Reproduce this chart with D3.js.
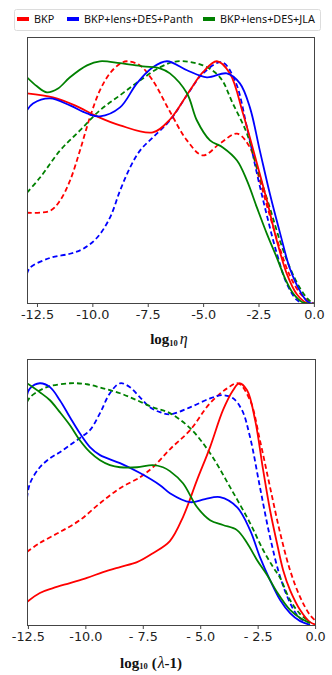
<!DOCTYPE html>
<html><head><meta charset="utf-8">
<script src="https://cdn.jsdelivr.net/npm/d3@7"></script>
<style>body{margin:0;background:#fff}svg{display:block}</style>
</head><body>
<script>
// ---------- data ----------
const seriesNames = ["BKP", "BKP+lens+DES+Panth", "BKP+lens+DES+JLA"];
const seriesColors = ["#ff0000", "#0000ff", "#008000"];
const tickValues = [-12.5, -10.0, -7.5, -5.0, -2.5, 0.0];
const topTickLabels = ["-12.5", "-10.0", "-7.5", "-5.0", "-2.5", "0.0"];
const bottomTickLabels = ["-12.5", "-10.0", "- 7.5", "- 5.0", "- 2.5", "0.0"];

// top panel: log10 eta  (solid / dashed per series)
const etaBKP = [[-12.95,0.868],[-11.78,0.851],[-10.79,0.818],[-9.79,0.773],[-8.75,0.736],[-7.27,0.707],[-6.50,0.76],[-5.60,0.88],[-5.01,0.955],[-4.38,1.0],[-3.79,0.95],[-3.20,0.785],[-2.57,0.579],[-2.12,0.426],[-1.67,0.26],[-1.22,0.124],[-0.77,0.04],[-0.32,0.004],[0.05,0.0]];
const etaBKPd = [[-12.95,0.376],[-11.91,0.384],[-11.46,0.426],[-11.01,0.508],[-10.56,0.632],[-10.11,0.769],[-9.66,0.88],[-9.21,0.95],[-8.75,0.99],[-8.44,1.0],[-7.85,0.983],[-7.27,0.92],[-6.50,0.793],[-5.73,0.674],[-5.01,0.612],[-4.24,0.661],[-3.47,0.702],[-2.89,0.645],[-2.44,0.508],[-1.99,0.364],[-1.53,0.227],[-1.08,0.116],[-0.63,0.045],[-0.18,0.008],[0.05,0.002]];
const etaPan = [[-12.95,0.798],[-12.68,0.826],[-11.91,0.847],[-11.01,0.818],[-10.24,0.785],[-9.66,0.773],[-8.75,0.81],[-7.99,0.909],[-7.27,0.975],[-6.63,1.0],[-5.73,0.963],[-4.83,0.934],[-3.93,0.95],[-3.34,0.909],[-2.89,0.81],[-2.44,0.632],[-1.99,0.455],[-1.53,0.293],[-1.08,0.145],[-0.63,0.054],[-0.27,0.008],[0.05,0.0]];
const etaPand = [[-12.95,0.124],[-12.82,0.149],[-11.91,0.19],[-11.01,0.207],[-10.42,0.227],[-9.79,0.273],[-9.21,0.355],[-8.75,0.467],[-8.30,0.562],[-7.85,0.632],[-7.27,0.686],[-6.50,0.756],[-5.73,0.86],[-5.01,0.95],[-4.15,0.996],[-3.56,0.92],[-3.02,0.727],[-2.57,0.537],[-2.12,0.364],[-1.67,0.207],[-1.22,0.083],[-0.77,0.017],[-0.41,0.0]];
const etaJLA = [[-12.95,0.934],[-12.5,0.897],[-12.05,0.872],[-11.55,0.888],[-11.01,0.934],[-10.24,0.983],[-9.66,1.0],[-8.75,0.992],[-7.72,0.979],[-6.95,0.971],[-6.50,0.95],[-5.73,0.868],[-5.28,0.756],[-4.69,0.674],[-4.11,0.645],[-3.47,0.591],[-3.02,0.508],[-2.57,0.397],[-2.12,0.289],[-1.67,0.19],[-1.31,0.107],[-0.95,0.045],[-0.54,0.008],[-0.2,0.0]];
const etaJLAd = [[-12.95,0.459],[-12.36,0.521],[-11.46,0.632],[-10.56,0.715],[-9.66,0.798],[-8.75,0.86],[-7.85,0.921],[-6.95,0.975],[-6.18,1.0],[-5.01,0.983],[-4.24,0.934],[-3.66,0.826],[-3.02,0.702],[-2.57,0.562],[-1.99,0.397],[-1.53,0.26],[-1.08,0.149],[-0.63,0.066],[-0.18,0.012],[0.05,0.004]];

// bottom panel: log10 (lambda-1)
const lamBKP = [[-12.54,0.099],[-11.98,0.136],[-11.41,0.156],[-10.67,0.177],[-9.93,0.198],[-9.23,0.222],[-8.49,0.243],[-7.75,0.263],[-7.06,0.3],[-6.32,0.35],[-5.75,0.449],[-5.14,0.601],[-4.57,0.737],[-4.01,0.889],[-3.57,0.971],[-3.31,1.0],[-2.96,0.971],[-2.61,0.848],[-2.26,0.642],[-1.96,0.477],[-1.66,0.342],[-1.39,0.23],[-1.09,0.148],[-0.65,0.066],[-0.22,0.016],[0.04,0.005]];
const lamBKPd = [[-12.54,0.305],[-11.98,0.342],[-11.11,0.387],[-10.24,0.436],[-9.36,0.506],[-8.49,0.568],[-7.62,0.613],[-7.06,0.654],[-6.32,0.728],[-5.44,0.807],[-4.57,0.918],[-3.83,0.979],[-3.35,1.0],[-2.83,0.93],[-2.40,0.765],[-1.96,0.572],[-1.52,0.383],[-1.09,0.23],[-0.65,0.119],[-0.22,0.045],[0.04,0.02]];
const lamPan = [[-12.54,0.95],[-12.41,0.979],[-11.98,1.0],[-11.54,0.984],[-11.11,0.93],[-10.67,0.86],[-10.24,0.794],[-9.80,0.737],[-9.36,0.704],[-8.49,0.671],[-7.62,0.63],[-6.75,0.58],[-6.32,0.547],[-5.44,0.51],[-4.79,0.523],[-4.14,0.531],[-3.40,0.49],[-2.83,0.395],[-2.40,0.284],[-1.96,0.189],[-1.52,0.107],[-1.09,0.053],[-0.65,0.02],[-0.22,0.005]];
const lamPand = [[-12.54,0.527],[-12.41,0.588],[-11.98,0.654],[-11.54,0.691],[-11.11,0.716],[-10.67,0.745],[-10.24,0.774],[-9.80,0.807],[-9.36,0.877],[-8.93,0.959],[-8.49,1.0],[-8.06,0.984],[-7.62,0.942],[-7.19,0.901],[-6.75,0.881],[-6.32,0.872],[-5.44,0.901],[-4.57,0.938],[-4.01,0.951],[-3.57,0.938],[-3.18,0.889],[-2.83,0.778],[-2.40,0.572],[-1.96,0.366],[-1.52,0.202],[-1.09,0.095],[-0.78,0.045],[-0.44,0.016]];
const lamJLA = [[-12.54,1.0],[-11.98,0.963],[-11.54,0.93],[-11.11,0.881],[-10.67,0.827],[-10.24,0.765],[-9.80,0.716],[-9.36,0.683],[-8.93,0.663],[-8.49,0.654],[-7.75,0.654],[-7.06,0.663],[-6.62,0.654],[-6.32,0.638],[-5.75,0.588],[-5.14,0.49],[-4.57,0.436],[-4.01,0.416],[-3.40,0.395],[-2.96,0.342],[-2.53,0.272],[-2.09,0.21],[-1.66,0.14],[-1.09,0.066],[-0.65,0.033],[-0.22,0.012]];
const lamJLAd = [[-12.54,0.922],[-12.41,0.942],[-11.98,0.971],[-11.54,0.988],[-10.67,1.0],[-9.93,0.996],[-9.23,0.979],[-8.49,0.959],[-7.75,0.93],[-7.06,0.901],[-6.32,0.877],[-5.44,0.815],[-4.57,0.712],[-3.70,0.572],[-2.83,0.424],[-2.26,0.313],[-1.83,0.243],[-1.52,0.198],[-1.09,0.107],[-0.65,0.049],[-0.22,0.016]];

// ---------- drawing ----------
const W = 332, H = 675;
const svg = d3.select("body").append("svg").attr("width", W).attr("height", H);

// legend
const leg = svg.append("g");
leg.append("rect").attr("x", 14.5).attr("y", 9.5).attr("width", 306).attr("height", 21)
  .attr("rx", 2).attr("fill", "#fff").attr("stroke", "#dcdcdc").attr("stroke-width", 1);
const legX = [17, 67, 203];
seriesNames.forEach((n, i) => {
  leg.append("rect").attr("x", legX[i]).attr("y", 17).attr("width", 12).attr("height", 4)
    .attr("fill", seriesColors[i]);
  leg.append("text").attr("x", legX[i] + 17).attr("y", 23)
    .attr("font-family", "'Noto Sans', sans-serif").attr("font-size", 10.8)
    .attr("fill", "#111").text(n);
});

function panel(cfg) {
  const x = d3.scaleLinear().domain(cfg.xdom).range([cfg.left, cfg.right]);
  const y = d3.scaleLinear().domain([0, 1.1]).range([cfg.bottom, cfg.top]);
  const g = svg.append("g");
  const clipId = "clip" + cfg.id;
  svg.append("clipPath").attr("id", clipId).append("rect")
    .attr("x", cfg.left).attr("y", cfg.top).attr("width", cfg.right - cfg.left).attr("height", cfg.bottom - cfg.top);
  const line = d3.line().x(d => x(d[0])).y(d => y(d[1])).curve(d3.curveCatmullRom.alpha(0.5));
  const lg = g.append("g").attr("clip-path", `url(#${clipId})`);
  cfg.series.forEach(s => {
    lg.append("path").datum(s.data).attr("d", line).attr("fill", "none")
      .attr("stroke", s.color).attr("stroke-width", 1.8)
      .attr("stroke-dasharray", s.dashed ? "5,3" : null);
  });
  // frame
  g.append("rect").attr("x", cfg.left + 0.5).attr("y", cfg.top + 0.5)
    .attr("width", cfg.right - cfg.left - 1).attr("height", cfg.bottom - cfg.top - 1)
    .attr("fill", "none").attr("stroke", "#444").attr("stroke-width", 1);
  // axis
  const ax = g.append("g").attr("transform", `translate(0,${cfg.bottom - 0.5})`)
    .call(d3.axisBottom(x).tickValues(tickValues).tickSize(3.5).tickPadding(3)
      .tickFormat((d, i) => cfg.labels[i]));
  ax.select(".domain").remove();
  ax.selectAll(".tick line").attr("stroke", "#444");
  ax.selectAll(".tick text").attr("font-family", "'DejaVu Sans', sans-serif")
    .attr("font-size", 12.8).attr("fill", "#222");
  return g;
}

panel({id: "top", left: 27, right: 315, top: 37, bottom: 304, xdom: [-12.95, 0.05], labels: topTickLabels,
  series: [
    {data: etaBKPd, color: seriesColors[0], dashed: true},
    {data: etaPand, color: seriesColors[1], dashed: true},
    {data: etaJLAd, color: seriesColors[2], dashed: true},
    {data: etaBKP, color: seriesColors[0]},
    {data: etaPan, color: seriesColors[1]},
    {data: etaJLA, color: seriesColors[2]}
  ]});

panel({id: "bot", left: 27, right: 316, top: 359, bottom: 626, xdom: [-12.54, 0.04], labels: bottomTickLabels,
  series: [
    {data: lamBKPd, color: seriesColors[0], dashed: true},
    {data: lamPand, color: seriesColors[1], dashed: true},
    {data: lamJLAd, color: seriesColors[2], dashed: true},
    {data: lamBKP, color: seriesColors[0]},
    {data: lamPan, color: seriesColors[1]},
    {data: lamJLA, color: seriesColors[2]}
  ]});

// axis titles
const t1 = svg.append("text").attr("x", 169).attr("y", 344).attr("text-anchor", "middle")
  .attr("font-family", "'Liberation Serif', serif").attr("fill", "#111");
t1.append("tspan").attr("font-weight", "bold").attr("font-size", 15).text("log");
t1.append("tspan").attr("font-weight", "bold").attr("font-size", 8.5).attr("dy", 2).text("10");
t1.append("tspan").attr("font-size", 16).attr("font-style", "italic").attr("dy", -2).attr("dx", 2).text("η");

const t2 = svg.append("text").attr("x", 120).attr("y", 668)
  .attr("font-family", "'Liberation Serif', serif").attr("fill", "#111");
t2.append("tspan").attr("font-weight", "bold").attr("font-size", 15).text("log");
t2.append("tspan").attr("font-weight", "bold").attr("font-size", 8.5).attr("dy", 1).text("10");
t2.append("tspan").attr("font-weight", "bold").attr("font-size", 15).attr("dy", -1).attr("dx", 4).text("(");
t2.append("tspan").attr("font-size", 16).attr("font-style", "italic").attr("dx", 1).text("λ");
t2.append("tspan").attr("font-weight", "bold").attr("font-size", 15).text("-1)");
</script>
</body></html>
